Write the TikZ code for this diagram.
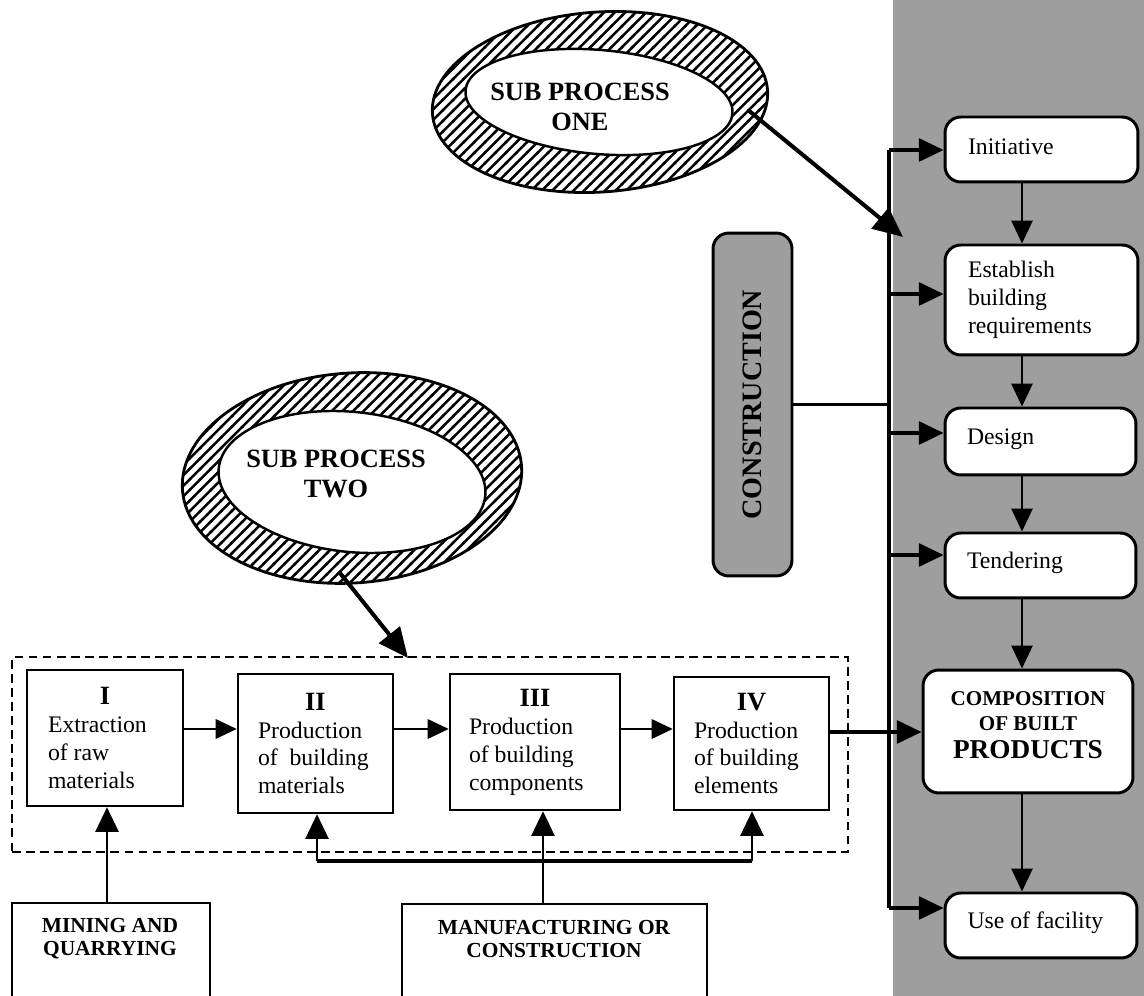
\documentclass[tikz,border=0pt]{standalone}
\usepackage{fontspec}
\setmainfont{Liberation Serif}
\usetikzlibrary{arrows.meta,patterns,shapes.geometric}
\pgfdeclarepatternformonly{bighatch}{\pgfqpoint{-1pt}{-1pt}}{\pgfqpoint{7pt}{7pt}}{\pgfqpoint{6pt}{6pt}}{%
  \pgfsetlinewidth{1.4pt}%
  \pgfpathmoveto{\pgfqpoint{-0.5pt}{-0.5pt}}%
  \pgfpathlineto{\pgfqpoint{6.5pt}{6.5pt}}%
  \pgfusepath{stroke}}
\newcommand\lblock[2]{\parbox{#1}{\raggedright #2}}
\begin{document}
\begin{tikzpicture}[x=0.02cm, y=-0.02cm,
  colfill/.style={fill=black!38},
  sqbox/.style={draw, line width=1.4pt, fill=white, inner sep=0pt, font=\fontsize{13.5}{15.9}\selectfont},
  rbox/.style={draw, line width=1.7pt, fill=white, rounded corners=9pt, inner sep=0pt, font=\fontsize{13.5}{15.9}\selectfont},
  capsbox/.style={inner sep=0pt},
  captext/.style={font=\fontsize{12.2}{13.2}\selectfont\bfseries, align=center},
  titletext/.style={font=\fontsize{15}{17.5}\selectfont\bfseries, align=center},
  outring/.style={ellipse, draw, line width=1.6pt, pattern=bighatch, inner sep=0pt},
  inring/.style={ellipse, draw, line width=1.4pt, fill=white, inner sep=0pt},
  chain/.style={line width=1.3pt, -{Triangle[length=12pt,width=11pt]}},
  busarr/.style={line width=1.9pt, -{Triangle[length=14pt,width=13pt]}},
  varr/.style={line width=1.1pt, -{Triangle[length=13pt,width=12pt]}},
  uparr/.style={line width=1.6pt, -{Triangle[length=14pt,width=13pt]}},
  bigarr/.style={line width=2.3pt, -{Triangle[length=17pt,width=15pt]}}
]
\useasboundingbox (0,0) rectangle (1144,996);

% shaded column
\fill[colfill] (893,0) rectangle (1144,996);

% sub process one
\node[outring, minimum width=6.72cm, minimum height=3.6cm, rotate=4] (oneOut) at (600,102) {};
\node[inring, minimum width=5.36cm, minimum height=2.08cm, rotate=-5] (oneIn) at (599,102) {};
\node[titletext] (oneT) at (580,107) {SUB PROCESS\\ONE};

% sub process two
\node[outring, minimum width=6.8cm, minimum height=4.2cm, rotate=4] (twoOut) at (352,478) {};
\node[inring, minimum width=5.36cm, minimum height=2.8cm, rotate=-6] (twoIn) at (352,482) {};
\node[titletext] (twoT) at (336,474) {SUB PROCESS\\TWO};

% right column boxes
\node[rbox, minimum width=3.86cm, minimum height=1.3cm] (init) at (1041.5,149.5) {\lblock{2.94cm}{Initiative\\[3pt]}};
\node[rbox, minimum width=3.86cm, minimum height=2.2cm] (estab) at (1041.5,300) {\lblock{2.94cm}{Establish\\building\\requirements}};
\node[rbox, minimum width=3.82cm, minimum height=1.34cm] (design) at (1040.5,441.5) {\lblock{2.94cm}{Design\\[3pt]}};
\node[rbox, minimum width=3.82cm, minimum height=1.3cm] (tender) at (1040.5,565.5) {\lblock{2.94cm}{Tendering\\[3pt]}};
\node[rbox, minimum width=4.2cm, minimum height=2.46cm, align=center, font=\fontsize{12}{14}\selectfont\bfseries] (comp) at (1028,731.5) {COMPOSITION\\OF BUILT\\[2pt]{\fontsize{15.5}{17}\selectfont PRODUCTS}\\[-7pt]};
\node[rbox, minimum width=3.84cm, minimum height=1.3cm] (use) at (1041,925.5) {\lblock{2.94cm}{Use of facility\\[3pt]}};

% construction
\node[draw, line width=1.7pt, colfill, rounded corners=9pt, inner sep=0pt, minimum width=1.58cm, minimum height=6.86cm] (constr) at (752.5,404.5) {};
\node[rotate=90, font=\fontsize{16}{18}\selectfont\bfseries] (constrT) at (constr.center) {CONSTRUCTION};

% bus
\coordinate (b1) at (889,150);
\coordinate (b2) at (889,294);
\coordinate (b3) at (889,433);
\coordinate (b4) at (889,555);
\coordinate (b5) at (889,732);
\coordinate (b6) at (889,908);
\draw[line width=2.1pt] (b1) -- (b6);
\draw[busarr] (b1) -- (init.west |- b1);
\draw[busarr] (b2) -- (estab.west |- b2);
\draw[busarr] (b3) -- (design.west |- b3);
\draw[busarr] (b4) -- (tender.west |- b4);
\draw[busarr] (b6) -- (use.west |- b6);
\draw[line width=1.5pt] (constr.east) -- (constr.east -| b1);

% vertical arrows in column
\coordinate (vx) at (1022,0);
\draw[varr] (init.south -| vx) -- (estab.north -| vx);
\draw[varr] (estab.south -| vx) -- (design.north -| vx);
\draw[varr] (design.south -| vx) -- (tender.north -| vx);
\draw[varr] (tender.south -| vx) -- (comp.north -| vx);
\draw[varr] (comp.south -| vx) -- (use.north -| vx);

% sub process arrows
\coordinate (oneA) at (748,110);
\coordinate (oneB) at (903,237);
\draw[bigarr] (oneA) -- (oneB);
\coordinate (twoA) at (340,573);
\coordinate (twoB) at (408,658);

% dashed group
\node[draw, dash pattern=on 5pt off 3pt, line width=1.2pt, inner sep=0pt, minimum width=16.72cm, minimum height=3.9cm] (grp) at (430,754.5) {};
\draw[bigarr] (twoA) -- (twoB);

% stage boxes
\node[sqbox, minimum width=3.12cm, minimum height=2.72cm] (i) at (105,738) {\lblock{2.28cm}{\makebox[\hsize]{\fontsize{15}{16}\selectfont\bfseries I}\\Extraction\\of raw\\materials}};
\node[sqbox, minimum width=3.1cm, minimum height=2.78cm] (ii) at (315.5,743.5) {\lblock{2.3cm}{\makebox[\hsize]{\fontsize{15}{16}\selectfont\bfseries II}\\Production\\of~ building\\materials}};
\node[sqbox, minimum width=3.4cm, minimum height=2.72cm] (iii) at (535,742) {\lblock{2.64cm}{\makebox[\hsize]{\fontsize{15}{16}\selectfont\bfseries III}\\Production\\of building\\components}};
\node[sqbox, minimum width=3.1cm, minimum height=2.66cm] (iv) at (751.5,743.5) {\lblock{2.3cm}{\makebox[\hsize]{\fontsize{15}{16}\selectfont\bfseries IV}\\Production\\of building\\elements}};

\coordinate (row) at (0,729);
\draw[chain] (i.east |- row) -- (ii.west |- row);
\draw[chain] (ii.east |- row) -- (iii.west |- row);
\draw[chain] (iii.east |- row) -- (iv.west |- row);
\draw[busarr] (iv.east |- b5) -- (comp.west |- b5);

% bottom boxes
\node[capsbox, minimum width=3.96cm, minimum height=1.86cm] (mining) at (111,949.5) {};
\draw[line width=1.3pt] (mining.south west) -- (mining.north west) -- (mining.north east) -- (mining.south east);
\node[captext] (miningT) at (110,939) {MINING AND\\QUARRYING};
\node[capsbox, minimum width=6.1cm, minimum height=1.84cm] (manuf) at (554.5,950) {};
\draw[line width=1.3pt] (manuf.south west) -- (manuf.north west) -- (manuf.north east) -- (manuf.south east);
\node[captext] (manufT) at (554,939) {MANUFACTURING OR\\CONSTRUCTION};

% up arrows
\coordinate (x1) at (107,0);
\coordinate (x3) at (543,0);
\coordinate (hb1) at (317,861);
\coordinate (hb2) at (752,861);
\draw[uparr] (mining.north -| x1) -- (i.south -| x1);
\draw[uparr] (manuf.north -| x3) -- (iii.south -| x3);
\draw[line width=2.1pt] (hb1) -- (hb2);
\draw[uparr] (hb1) -- (ii.south -| hb1);
\draw[uparr] (hb2) -- (iv.south -| hb2);
\end{tikzpicture}
\end{document}
